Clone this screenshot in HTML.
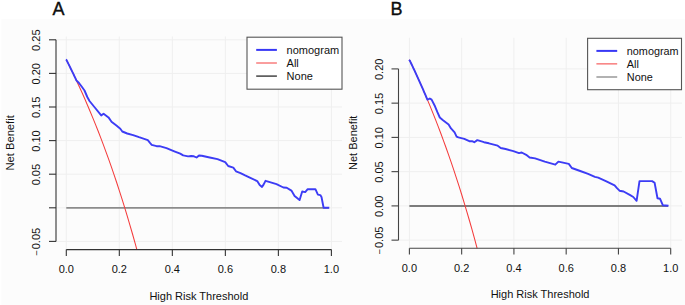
<!DOCTYPE html>
<html><head><meta charset="utf-8"><style>
html,body{margin:0;padding:0;background:#fff;width:685px;height:305px;overflow:hidden;}

svg{display:block;font-family:"Liberation Sans",sans-serif;}
text{fill:#111;}
</style></head><body>
<svg width="685" height="305" viewBox="0 0 685 305" font-family="Liberation Sans, sans-serif" fill="#000">
<g>
<rect x="0" y="0" width="685" height="305" fill="#fff"/>
<rect x="1.5" y="19" width="685" height="305" fill="#fcfcfc"/>
<line x1="66.3" y1="36.5" x2="66.3" y2="249.6" stroke="#efefef" stroke-width="1"/>
<line x1="119.32" y1="36.5" x2="119.32" y2="249.6" stroke="#efefef" stroke-width="1"/>
<line x1="172.34" y1="36.5" x2="172.34" y2="249.6" stroke="#efefef" stroke-width="1"/>
<line x1="225.36" y1="36.5" x2="225.36" y2="249.6" stroke="#efefef" stroke-width="1"/>
<line x1="278.38" y1="36.5" x2="278.38" y2="249.6" stroke="#efefef" stroke-width="1"/>
<line x1="331.4" y1="36.5" x2="331.4" y2="249.6" stroke="#efefef" stroke-width="1"/>
<line x1="56" y1="39.8" x2="342" y2="39.8" stroke="#efefef" stroke-width="1"/>
<line x1="56" y1="73.4" x2="342" y2="73.4" stroke="#efefef" stroke-width="1"/>
<line x1="56" y1="107" x2="342" y2="107" stroke="#efefef" stroke-width="1"/>
<line x1="56" y1="140.6" x2="342" y2="140.6" stroke="#efefef" stroke-width="1"/>
<line x1="56" y1="174.2" x2="342" y2="174.2" stroke="#efefef" stroke-width="1"/>
<line x1="56" y1="207.8" x2="342" y2="207.8" stroke="#efefef" stroke-width="1"/>
<line x1="56" y1="241.4" x2="342" y2="241.4" stroke="#efefef" stroke-width="1"/>
<line x1="66.3" y1="207.8" x2="328.75" y2="207.8" stroke="#8c8c8c" stroke-width="1.8"/>
<polyline points="66.3,59.62 68.95,64.92 71.6,70.31 74.25,75.82 76.9,81.45 79.56,87.19 82.21,93.06 84.86,99.05 87.51,105.17 90.16,111.43 92.81,117.83 95.46,124.37 98.11,131.05 100.76,137.9 103.41,144.9 106.06,152.06 108.72,159.4 111.37,166.91 114.02,174.61 116.67,182.5 119.32,190.58 121.97,198.87 124.62,207.37 127.27,216.09 129.92,225.04 132.58,234.23 135.23,243.67 136.86,249.6" fill="none" stroke="#f43c3c" stroke-width="1.05"/>
<polyline points="65.9,59.62 66.55,60.12 66.8,60.62 67.06,61.12 67.31,61.62 67.56,62.12 67.81,62.63 68.06,63.13 68.31,63.64 68.57,64.14 68.82,64.65 69.07,65.16 69.32,65.66 69.57,66.17 69.83,66.68 70.08,67.2 70.33,67.71 70.58,68.22 70.83,68.74 71.09,69.25 71.34,69.77 71.59,70.29 71.84,70.81 72.09,71.33 72.34,71.85 72.6,72.37 72.85,72.89 73.1,73.41 73.35,73.94 73.6,74.46 73.86,74.99 74.11,75.52 74.36,76.05 74.61,76.58 74.86,77.11 75.11,77.64 75.37,78.17 75.62,78.71 75.87,79.24 76.12,79.78 76.37,80.32 79,83 82,87 84.5,90.5 87.3,97 89.5,101 94.8,107.5 101.2,115.4 103.6,113.8 108.5,117.4 111.5,121.7 116.4,125.6 120.3,128.8 122.3,131.5 127.2,133.5 133.1,135.1 139,137.2 147.8,140.1 149.8,142.6 151.7,144.8 156.6,146.2 159.6,146.2 166.5,148.2 174.3,151.3 180.2,153.6 183.2,155.4 188.1,156.4 191.1,156 193.9,156.3 196.6,157.5 199,155.5 201.8,155.7 209.7,157.5 217.5,159.1 225.2,162.1 228.2,166 233.3,167.6 236,171.3 240.5,173.1 245.1,175.4 250.9,178.1 257.2,181.1 259.7,185.1 262,186.9 263.7,184.4 265.5,180.8 269,181.9 276.5,184.2 283.4,187.5 286.7,187.7 291.4,190.6 294.6,195.9 297.4,198.2 299.6,200.1 302.2,191.4 303.9,191.8 305.2,192.1 307.7,189.2 315.4,189.2 317.9,194.6 320.3,195.1 321.5,197 323.6,207.7 329.3,207.7" fill="none" stroke="#3c3cf5" stroke-width="1.9" stroke-linejoin="round"/>
<line x1="56" y1="39.7" x2="56" y2="241.5" stroke="#333" stroke-width="1.1"/>
<line x1="49" y1="39.8" x2="56" y2="39.8" stroke="#333" stroke-width="1.1"/>
<text transform="translate(40.2,40.2) rotate(-90)" text-anchor="middle" font-size="11">0.25</text>
<line x1="49" y1="73.4" x2="56" y2="73.4" stroke="#333" stroke-width="1.1"/>
<text transform="translate(40.2,73.8) rotate(-90)" text-anchor="middle" font-size="11">0.20</text>
<line x1="49" y1="107" x2="56" y2="107" stroke="#333" stroke-width="1.1"/>
<text transform="translate(40.2,107.4) rotate(-90)" text-anchor="middle" font-size="11">0.15</text>
<line x1="49" y1="140.6" x2="56" y2="140.6" stroke="#333" stroke-width="1.1"/>
<text transform="translate(40.2,141) rotate(-90)" text-anchor="middle" font-size="11">0.10</text>
<line x1="49" y1="174.2" x2="56" y2="174.2" stroke="#333" stroke-width="1.1"/>
<text transform="translate(40.2,174.6) rotate(-90)" text-anchor="middle" font-size="11">0.05</text>
<line x1="49" y1="207.8" x2="56" y2="207.8" stroke="#333" stroke-width="1.1"/>
<line x1="49" y1="241.4" x2="56" y2="241.4" stroke="#333" stroke-width="1.1"/>
<text transform="translate(40.2,241.8) rotate(-90)" text-anchor="middle" font-size="11"><tspan font-size="9.5">−</tspan><tspan dx="0.9">0.05</tspan></text>
<line x1="66.3" y1="249.6" x2="331.4" y2="249.6" stroke="#333" stroke-width="1.1"/>
<line x1="66.3" y1="249.6" x2="66.3" y2="255.9" stroke="#333" stroke-width="1.1"/>
<text x="66.3" y="272.8" text-anchor="middle" font-size="11">0.0</text>
<line x1="119.32" y1="249.6" x2="119.32" y2="255.9" stroke="#333" stroke-width="1.1"/>
<text x="119.32" y="272.8" text-anchor="middle" font-size="11">0.2</text>
<line x1="172.34" y1="249.6" x2="172.34" y2="255.9" stroke="#333" stroke-width="1.1"/>
<text x="172.34" y="272.8" text-anchor="middle" font-size="11">0.4</text>
<line x1="225.36" y1="249.6" x2="225.36" y2="255.9" stroke="#333" stroke-width="1.1"/>
<text x="225.36" y="272.8" text-anchor="middle" font-size="11">0.6</text>
<line x1="278.38" y1="249.6" x2="278.38" y2="255.9" stroke="#333" stroke-width="1.1"/>
<text x="278.38" y="272.8" text-anchor="middle" font-size="11">0.8</text>
<line x1="331.4" y1="249.6" x2="331.4" y2="255.9" stroke="#333" stroke-width="1.1"/>
<text x="331.4" y="272.8" text-anchor="middle" font-size="11">1.0</text>
<text x="198.85" y="299.5" text-anchor="middle" font-size="11">High Risk Threshold</text>
<text transform="translate(13.6,142.9) rotate(-90)" text-anchor="middle" font-size="11.2">Net Benefit</text>
<text x="52.6" y="14.9" font-size="18" stroke="#000" stroke-width="0.35">A</text>
<rect x="247" y="37.2" width="95" height="52" fill="#fff" stroke="#555" stroke-width="1.1"/>
<line x1="256.2" y1="49.9" x2="276.9" y2="49.9" stroke="#3838f5" stroke-width="2"/>
<text x="286.6" y="53.9" font-size="11">nomogram</text>
<line x1="256.2" y1="63" x2="276.9" y2="63" stroke="#f43c3c" stroke-width="1"/>
<text x="286.6" y="67" font-size="11">All</text>
<line x1="256.2" y1="76.1" x2="276.9" y2="76.1" stroke="#444" stroke-width="1.5"/>
<text x="286.6" y="80.1" font-size="11">None</text>
<line x1="409.4" y1="37.8" x2="409.4" y2="248.3" stroke="#efefef" stroke-width="1"/>
<line x1="461.66" y1="37.8" x2="461.66" y2="248.3" stroke="#efefef" stroke-width="1"/>
<line x1="513.92" y1="37.8" x2="513.92" y2="248.3" stroke="#efefef" stroke-width="1"/>
<line x1="566.18" y1="37.8" x2="566.18" y2="248.3" stroke="#efefef" stroke-width="1"/>
<line x1="618.44" y1="37.8" x2="618.44" y2="248.3" stroke="#efefef" stroke-width="1"/>
<line x1="670.7" y1="37.8" x2="670.7" y2="248.3" stroke="#efefef" stroke-width="1"/>
<line x1="398.5" y1="68.9" x2="682" y2="68.9" stroke="#efefef" stroke-width="1"/>
<line x1="398.5" y1="103.15" x2="682" y2="103.15" stroke="#efefef" stroke-width="1"/>
<line x1="398.5" y1="137.4" x2="682" y2="137.4" stroke="#efefef" stroke-width="1"/>
<line x1="398.5" y1="171.65" x2="682" y2="171.65" stroke="#efefef" stroke-width="1"/>
<line x1="398.5" y1="205.9" x2="682" y2="205.9" stroke="#efefef" stroke-width="1"/>
<line x1="398.5" y1="240.15" x2="682" y2="240.15" stroke="#efefef" stroke-width="1"/>
<line x1="409.4" y1="205.9" x2="668.09" y2="205.9" stroke="#555" stroke-width="1.5"/>
<polyline points="409.4,59.79 412.01,65.23 414.63,70.79 417.24,76.46 419.85,82.24 422.46,88.15 425.08,94.19 427.69,100.35 430.3,106.65 432.92,113.09 435.53,119.67 438.14,126.39 440.76,133.27 443.37,140.31 445.98,147.52 448.59,154.89 451.21,162.44 453.82,170.16 456.43,178.08 459.05,186.2 461.66,194.51 464.27,203.04 466.89,211.78 469.5,220.76 472.11,229.97 474.73,239.42 477.12,248.3" fill="none" stroke="#f43c3c" stroke-width="1.05"/>
<polyline points="409,59.79 409.85,60.72 410.3,61.66 410.75,62.59 411.2,63.53 411.65,64.48 412.1,65.43 412.56,66.38 413.01,67.33 413.46,68.29 413.91,69.25 414.36,70.21 414.81,71.18 415.26,72.15 415.71,73.13 416.16,74.1 416.61,75.09 417.06,76.07 417.51,77.06 417.96,78.05 418.41,79.05 418.87,80.04 419.32,81.05 419.77,82.05 420.22,83.06 420.67,84.08 421.12,85.09 421.57,86.11 422.02,87.14 422.47,88.17 422.92,89.2 423.37,90.23 423.82,91.27 424.27,92.32 424.73,93.36 425.18,94.42 425.63,95.47 426.08,96.53 426.53,97.59 426.98,98.66 427.43,99.73 429.8,98.5 431.6,99.6 435,106.3 437.4,112.2 439.8,117.5 442.7,119.9 448.6,124.4 451,128.4 454.6,132.4 456.6,136.6 458.4,137.4 464.3,138.9 469.3,141.2 472,141.1 474.3,142.2 477.3,140.1 484,142.2 488.9,143.3 497.7,145.7 500.7,148 505.6,149 513.4,151.2 519,153.1 521.7,152.5 526.2,154.8 529.6,157.5 535.1,158.4 544.8,161.7 555.3,164.7 558.4,161.6 568.8,163.9 571.8,168 580.2,171 588.1,173.9 594.9,176.9 598.2,177.7 606.4,181.3 614.6,185.4 617,188.2 619.5,190.7 623.6,191.5 630.2,195.2 633.3,197 636.6,200.8 639.5,181.1 652.1,181.1 654.6,182.8 657.5,198.2 660,198.7 662.8,205.2 668.5,205.7" fill="none" stroke="#3c3cf5" stroke-width="1.9" stroke-linejoin="round"/>
<line x1="398.5" y1="68.9" x2="398.5" y2="240.2" stroke="#444" stroke-width="1.1"/>
<line x1="391.5" y1="68.9" x2="398.5" y2="68.9" stroke="#444" stroke-width="1.1"/>
<text transform="translate(383.1,69.3) rotate(-90)" text-anchor="middle" font-size="11">0.20</text>
<line x1="391.5" y1="103.15" x2="398.5" y2="103.15" stroke="#444" stroke-width="1.1"/>
<text transform="translate(383.1,103.55) rotate(-90)" text-anchor="middle" font-size="11">0.15</text>
<line x1="391.5" y1="137.4" x2="398.5" y2="137.4" stroke="#444" stroke-width="1.1"/>
<text transform="translate(383.1,137.8) rotate(-90)" text-anchor="middle" font-size="11">0.10</text>
<line x1="391.5" y1="171.65" x2="398.5" y2="171.65" stroke="#444" stroke-width="1.1"/>
<text transform="translate(383.1,172.05) rotate(-90)" text-anchor="middle" font-size="11">0.05</text>
<line x1="391.5" y1="205.9" x2="398.5" y2="205.9" stroke="#444" stroke-width="1.1"/>
<text transform="translate(383.1,206.3) rotate(-90)" text-anchor="middle" font-size="11">0.00</text>
<line x1="391.5" y1="240.15" x2="398.5" y2="240.15" stroke="#444" stroke-width="1.1"/>
<text transform="translate(383.1,240.55) rotate(-90)" text-anchor="middle" font-size="11"><tspan font-size="9.5">−</tspan><tspan dx="0.9">0.05</tspan></text>
<line x1="409.4" y1="248.3" x2="670.7" y2="248.3" stroke="#444" stroke-width="1.1"/>
<line x1="409.4" y1="248.3" x2="409.4" y2="254.6" stroke="#444" stroke-width="1.1"/>
<text x="409.4" y="271.7" text-anchor="middle" font-size="11">0.0</text>
<line x1="461.66" y1="248.3" x2="461.66" y2="254.6" stroke="#444" stroke-width="1.1"/>
<text x="461.66" y="271.7" text-anchor="middle" font-size="11">0.2</text>
<line x1="513.92" y1="248.3" x2="513.92" y2="254.6" stroke="#444" stroke-width="1.1"/>
<text x="513.92" y="271.7" text-anchor="middle" font-size="11">0.4</text>
<line x1="566.18" y1="248.3" x2="566.18" y2="254.6" stroke="#444" stroke-width="1.1"/>
<text x="566.18" y="271.7" text-anchor="middle" font-size="11">0.6</text>
<line x1="618.44" y1="248.3" x2="618.44" y2="254.6" stroke="#444" stroke-width="1.1"/>
<text x="618.44" y="271.7" text-anchor="middle" font-size="11">0.8</text>
<line x1="670.7" y1="248.3" x2="670.7" y2="254.6" stroke="#444" stroke-width="1.1"/>
<text x="670.7" y="271.7" text-anchor="middle" font-size="11">1.0</text>
<text x="540.05" y="297.7" text-anchor="middle" font-size="11">High Risk Threshold</text>
<text transform="translate(356.9,142.8) rotate(-90)" text-anchor="middle" font-size="11">Net Benefit</text>
<text x="390.6" y="14.9" font-size="18" stroke="#000" stroke-width="0.35">B</text>
<rect x="587.6" y="38.3" width="93.9" height="51.4" fill="#fff" stroke="#555" stroke-width="1.1"/>
<line x1="596.4" y1="50.9" x2="617.2" y2="50.9" stroke="#3838f5" stroke-width="2"/>
<text x="626.8" y="54.9" font-size="10.85">nomogram</text>
<line x1="596.4" y1="63.9" x2="617.2" y2="63.9" stroke="#f43c3c" stroke-width="1"/>
<text x="626.8" y="67.9" font-size="10.85">All</text>
<line x1="596.4" y1="77" x2="617.2" y2="77" stroke="#999" stroke-width="1.5"/>
<text x="626.8" y="81" font-size="10.85">None</text>
</g>
</svg>
</body></html>
